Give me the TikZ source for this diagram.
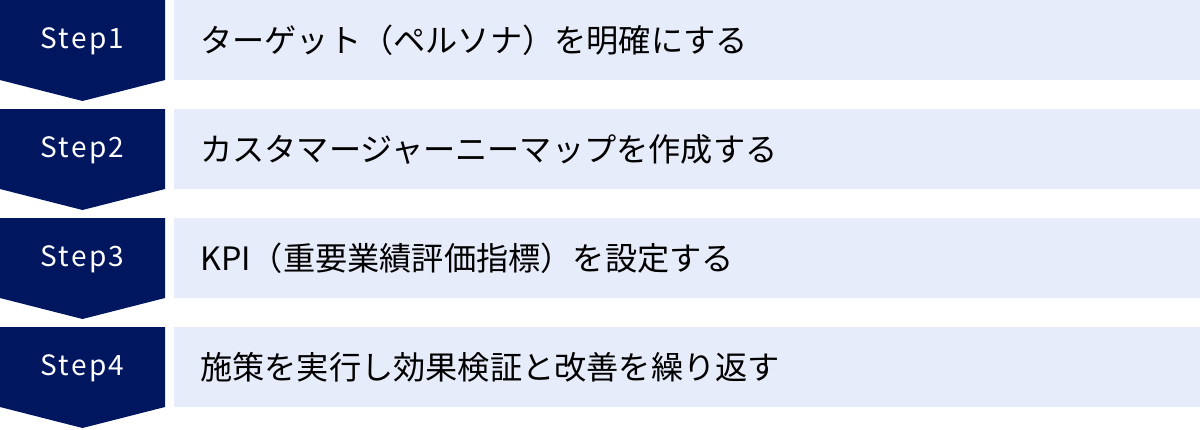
\documentclass[tikz,border=0pt]{standalone}
\usepackage{fontspec}
\setmainfont{Noto Sans CJK JP}
\newfontfamily\stepfont[LetterSpace=8]{Noto Sans CJK JP}
\usetikzlibrary{positioning}
\definecolor{stepnavy}{HTML}{00175F}
\definecolor{taskblue}{HTML}{E6ECF9}

\begin{document}
\begin{tikzpicture}[x=1pt,y=-1pt,
  stepshape/.style={fill=stepnavy},
  steplabel/.style={text=white,inner sep=0pt,font=\stepfont\fontsize{28}{28}\selectfont},
  taskbox/.style={fill=taskblue,minimum width=1026pt,minimum height=80pt,anchor=north west,inner sep=0pt},
  tasklabel/.style={font=\fontsize{32.2}{32.2}\selectfont,anchor=west,inner sep=0pt}]
\useasboundingbox (0,0) rectangle (1200,429);
\foreach \i/\task in {1/ターゲット（ペルソナ）を明確にする,
                      2/カスタマージャーニーマップを作成する,
                      3/KPI（重要業績評価指標）を設定する,
                      4/施策を実行し効果検証と改善を繰り返す}{
  \pgfmathsetmacro\top{(\i-1)*109}
  % navy step marker
  \fill[stepshape] (0,\top) -- ++(165,0) -- ++(0,80) -- ++(-82.5,21) -- ++(-82.5,-21) -- cycle;
  \node[steplabel] (step\i) at (82.5,\top+41) {Step\i};
  % task row
  \node[taskbox] (box\i) at (174,\top) {};
  \node[tasklabel] (task\i) at ([xshift=26pt]box\i.west) {\task};
}
\end{tikzpicture}
\end{document}
